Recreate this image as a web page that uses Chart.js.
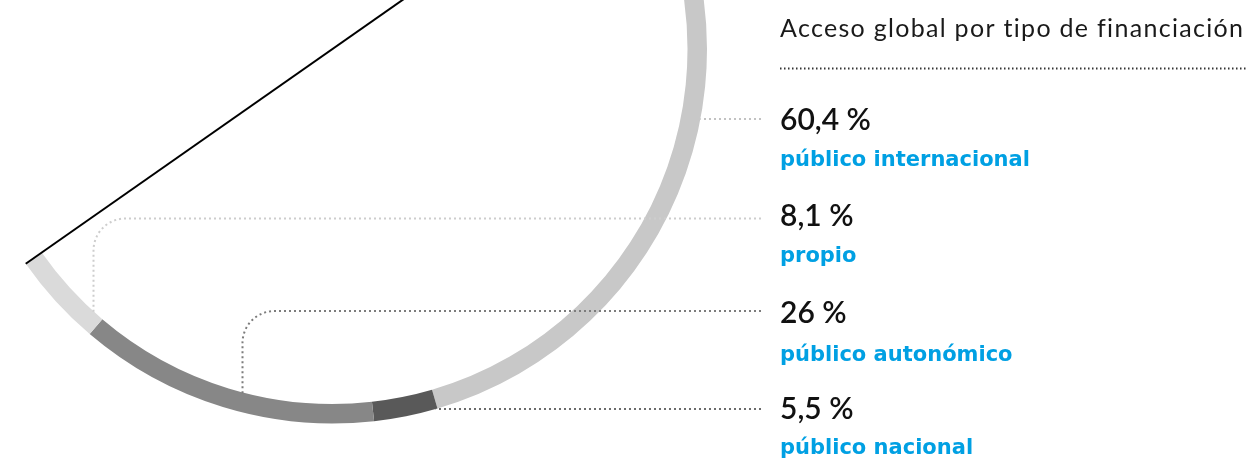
<!DOCTYPE html>
<html lang="es">
<head>
<meta charset="utf-8">
<script src="https://cdn.jsdelivr.net/npm/chart.js@4.4.1/dist/chart.umd.min.js"></script>
<style>
  html, body { margin: 0; padding: 0; background: #fff; }
  #wrap { position: relative; width: 1246px; height: 459px; overflow: hidden; }
</style>
</head>
<body>
<div id="wrap"><canvas id="accesoChart" width="1246" height="459"></canvas></div>
<script>
var titulo = 'Acceso global por tipo de financiación';

// ring order, clockwise starting at the diameter line
var categorias = ['público internacional', 'público nacional', 'público autonómico', 'propio'];
var porcentajes = [60.4, 5.5, 26, 8.1];
var colores = ['#c8c8c8', '#595959', '#878787', '#dadada'];

// legend rows top to bottom (indexes into the arrays above)
var ordenLeyenda = [0, 3, 2, 1];

// ---- layout ----
var W = 1246, H = 459;
var CX = 332.5, CY = 49, R = 374.5, GROSOR = 19.5;
var ROTACION = 55, CIRCUNF = 180;
var LEY_X = 780, GUIA_FIN = 761;
var filas = [
    { yValor: 129.5, yEtiqueta: 165.5, yGuia: 119, esquinaX: null, colorGuia: '#c2c2c2' },
    { yValor: 225.5, yEtiqueta: 261.5, yGuia: 218.5, esquinaX: 93.5, colorGuia: '#cdcdcd' },
    { yValor: 323, yEtiqueta: 361, yGuia: 311, esquinaX: 242.5, colorGuia: '#7c7c7c' },
    { yValor: 418.5, yEtiqueta: 454, yGuia: 409, esquinaX: null, colorGuia: '#6a6a6a' }
];

// chart.js centres a partial doughnut on the box of its arc; undo that so the centre lands on CX,CY
var a0 = (ROTACION - 90) * Math.PI / 180;
var offX = -(1 + Math.cos(a0 + Math.PI)) / 2;   // max x = 1, min x = cos(end)
var offY = -(1 + Math.sin(a0)) / 2;             // max y = 1, min y = sin(start)
var areaCX = CX - offX * R, areaCY = CY - offY * R;

function formatea(v) {
    return String(v).replace('.', ',') + ' %';
}

var guias = {
    id: 'guias',
    afterDatasetsDraw: function (chart) {
        var ctx = chart.ctx;
        var arcs = chart.getDatasetMeta(0).data;
        var first = arcs[0], last = arcs[arcs.length - 1];
        var cx = first.x, cy = first.y, ro = first.outerRadius, ri = first.innerRadius;

        ctx.save();
        // diameter
        ctx.strokeStyle = '#000';
        ctx.lineWidth = 2;
        ctx.beginPath();
        ctx.moveTo(cx + ro * Math.cos(first.startAngle), cy + ro * Math.sin(first.startAngle));
        ctx.lineTo(cx + ro * Math.cos(last.endAngle), cy + ro * Math.sin(last.endAngle));
        ctx.stroke();

        // dotted leader lines
        ctx.lineWidth = 2;
        ctx.setLineDash([2, 3]);
        filas.forEach(function (f) {
            ctx.strokeStyle = f.colorGuia;
            ctx.beginPath();
            if (f.esquinaX === null) {
                var dy = f.yGuia - cy;
                var xs = cx + Math.sqrt(ro * ro - dy * dy);
                ctx.moveTo(GUIA_FIN, f.yGuia);
                ctx.lineTo(xs, f.yGuia);
            } else {
                var dx = f.esquinaX - cx;
                var ye = cy + Math.sqrt(ri * ri - dx * dx) + 1;
                ctx.moveTo(GUIA_FIN, f.yGuia);
                ctx.arcTo(f.esquinaX, f.yGuia, f.esquinaX, ye, 32);
                ctx.lineTo(f.esquinaX, ye);
            }
            ctx.stroke();
        });

        // title underline
        ctx.strokeStyle = '#333';
        ctx.setLineDash([1.5, 2.5]);
        ctx.beginPath();
        ctx.moveTo(LEY_X, 68.5);
        ctx.lineTo(W, 68.5);
        ctx.stroke();
        ctx.setLineDash([]);

        // texts
        ctx.textAlign = 'left';
        ctx.textBaseline = 'alphabetic';
        ctx.fillStyle = '#1a1a1a';
        ctx.font = '400 25px Lato, sans-serif';
        ctx.letterSpacing = '1.3px';
        ctx.fillText(titulo, LEY_X, 37);

        ordenLeyenda.forEach(function (idx, i) {
            var f = filas[i];
            ctx.fillStyle = '#111';
            ctx.font = '600 30px Lato, sans-serif';
            ctx.letterSpacing = '0px';
            ctx.fillText(formatea(porcentajes[idx]), LEY_X, f.yValor);
            ctx.fillStyle = '#00a0e3';
            ctx.font = 'bold 21px "DejaVu Sans", sans-serif';
            ctx.fillText(categorias[idx], LEY_X, f.yEtiqueta);
        });
        ctx.restore();
    }
};

var ctx = document.getElementById('accesoChart').getContext('2d');
var accesoChart = new Chart(ctx, {
    type: 'doughnut',
    data: {
        labels: categorias,
        datasets: [{
            data: porcentajes,
            backgroundColor: colores,
            borderWidth: 0,
            hoverOffset: 0,
            clip: false
        }]
    },
    options: {
        responsive: false,
        animation: false,
        events: [],
        rotation: ROTACION,
        circumference: CIRCUNF,
        radius: R,
        cutout: ((R - GROSOR) / R * 100) + '%',
        layout: {
            padding: { left: 0, top: 0, right: W - 2 * areaCX, bottom: H - 2 * areaCY }
        },
        plugins: {
            legend: { display: false },
            tooltip: { enabled: false }
        }
    },
    plugins: [guias]
});
</script>
</body>
</html>
